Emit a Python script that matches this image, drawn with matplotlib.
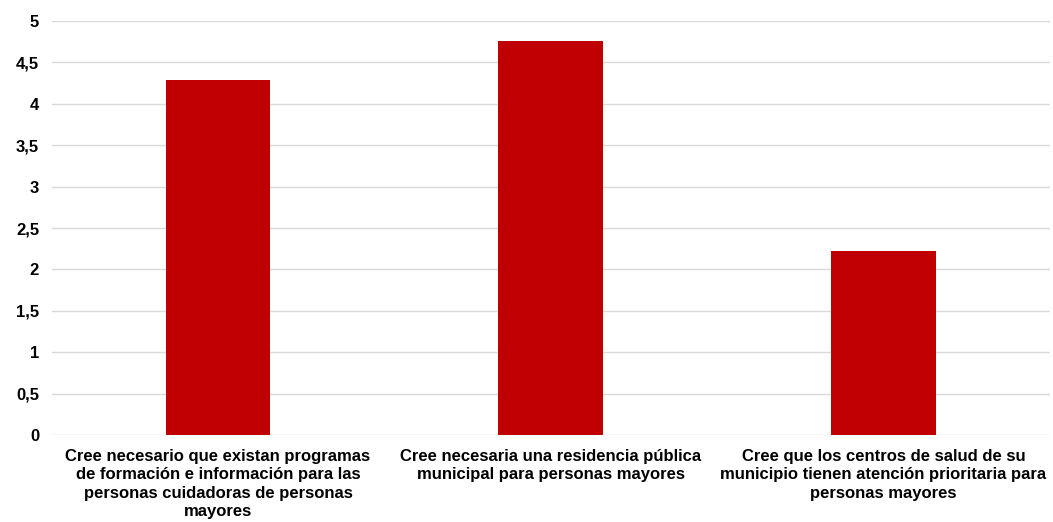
import matplotlib.pyplot as plt
from matplotlib.ticker import FuncFormatter

# datos
categorias = [
    "Cree necesario que existan programas\nde formación e información para las\npersonas cuidadoras de personas\nmayores",
    "Cree necesaria una residencia pública\nmunicipal para personas mayores",
    "Cree que los centros de salud de su\nmunicipio tienen atención prioritaria para\npersonas mayores",
]
valores = [4.29, 4.76, 2.22]
y_ticks = [0, 0.5, 1, 1.5, 2, 2.5, 3, 3.5, 4, 4.5, 5]

plt.rcParams['font.family'] = ['Liberation Sans', 'DejaVu Sans']

fig = plt.figure(figsize=(10.53, 5.22), dpi=100)
ax = fig.add_axes([0.049, 0.1667, 0.948, 0.793])

x = range(len(categorias))
ax.bar(x, valores, width=0.315, color='#c00000', zorder=3)

ax.set_xlim(-0.5, len(categorias) - 0.5)
ax.set_ylim(0, 5)
ax.set_yticks(y_ticks)
ax.yaxis.set_major_formatter(FuncFormatter(lambda v, p: ("%g" % v).replace('.', ',')))
ax.set_xticks(list(x))
ax.set_xticklabels(categorias, fontsize=12, fontweight='bold', linespacing=1.28)
for lab in ax.get_yticklabels():
    lab.set_fontsize(12)
    lab.set_fontweight('bold')

ax.grid(axis='y', color='#d9d9d9', linewidth=1, zorder=0)
ax.tick_params(axis='x', length=0, pad=10)
ax.tick_params(axis='y', length=0, pad=9)
for s in ax.spines.values():
    s.set_visible(False)
ax.set_axisbelow(True)

plt.savefig("out.png", dpi=100)
